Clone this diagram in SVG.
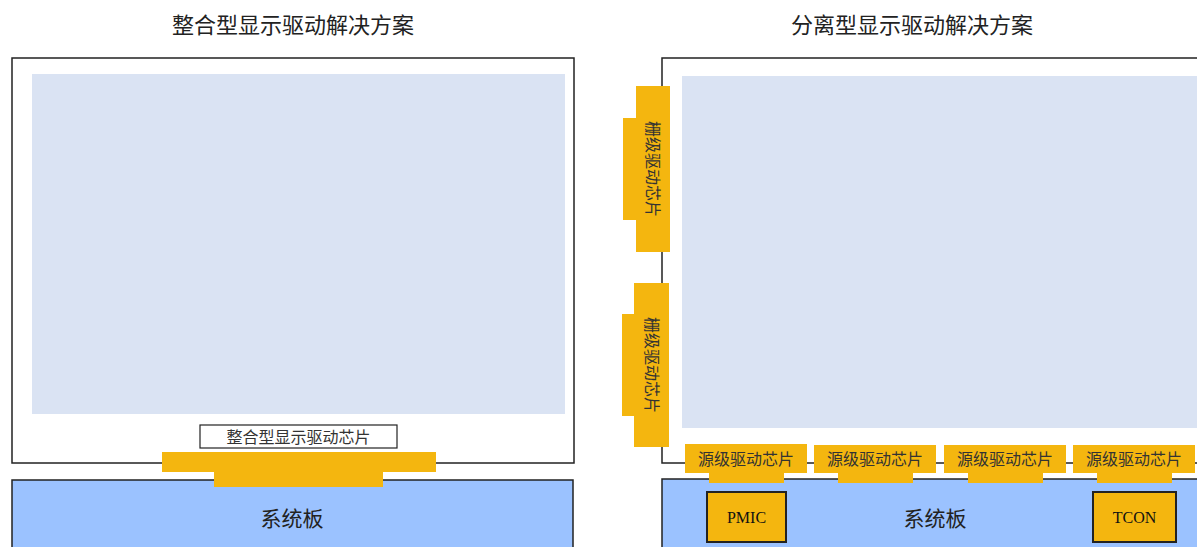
<svg xmlns="http://www.w3.org/2000/svg" width="1197" height="547" viewBox="0 0 1197 547">
<style>
.t{font-family:"Noto Sans CJK SC","Noto Sans",sans-serif;fill:#222}
.title{font-size:22px;text-anchor:middle}
.panel{fill:#fff;stroke:#222;stroke-width:1.5}
.screen{fill:#DAE3F3}
.board{fill:#9BC2FF;stroke:#222;stroke-width:1.5}
.chip{fill:#F4B60F}
.lbl{font-size:16px;text-anchor:middle;fill:#333}
.big{font-size:21px;text-anchor:middle}
.ic{fill:#F4B60F;stroke:#222;stroke-width:2}
.en{font-family:"Liberation Serif",serif;font-size:16px;text-anchor:middle;fill:#111}
</style>
<text class="t title" x="293" y="33">整合型显示驱动解决方案</text>
<text class="t title" x="912" y="33">分离型显示驱动解决方案</text>

<g id="left-panel">
<rect class="panel" x="12" y="58" width="562" height="405"/>
<rect class="screen" x="32" y="74" width="533" height="340"/>
</g>
<g id="left-board">
<rect class="board" x="12" y="480" width="561" height="80"/>
<text class="t big" x="292" y="526">系统板</text>
</g>
<g id="integrated-chip">
<rect class="chip" x="162" y="452" width="274" height="20"/>
<rect class="chip" x="214" y="471" width="169" height="16"/>
</g>
<g id="integrated-label">
<rect x="200" y="425" width="197" height="23" fill="#fff" stroke="#222" stroke-width="1.2"/>
<text class="t lbl" x="298.5" y="442.5">整合型显示驱动芯片</text>
</g>

<g id="right-panel">
<rect class="panel" x="662" y="58" width="560" height="405"/>
<rect class="screen" x="682" y="76" width="530" height="352"/>
</g>
<g id="right-board">
<rect class="board" x="662" y="479" width="560" height="80"/>
<text class="t big" x="935" y="526">系统板</text>
</g>
<g id="pmic">
<rect class="ic" x="707" y="492" width="79" height="50"/>
<text class="en" x="746.5" y="523">PMIC</text>
</g>
<g id="tcon">
<rect class="ic" x="1093" y="492" width="83" height="50"/>
<text class="en" x="1134.5" y="523">TCON</text>
</g>

<g id="gate-chip-1">
<rect class="chip" x="636" y="86" width="34" height="166"/>
<rect class="chip" x="623" y="118" width="20" height="102"/>
<text class="t lbl" transform="translate(647 169) rotate(90)" x="0" y="0">栅级驱动芯片</text>
</g>
<g id="gate-chip-2">
<rect class="chip" x="634" y="283" width="35" height="164"/>
<rect class="chip" x="622" y="314" width="20" height="102"/>
<text class="t lbl" transform="translate(646 365) rotate(90)" x="0" y="0">栅级驱动芯片</text>
</g>

<g id="source-chip-1">
<rect class="chip" x="685" y="444" width="122" height="29"/>
<rect class="chip" x="709" y="472" width="75" height="11"/>
<text class="t lbl" x="746" y="465">源级驱动芯片</text>
</g>
<g id="source-chip-2">
<rect class="chip" x="814" y="445" width="122" height="28"/>
<rect class="chip" x="838" y="472" width="75" height="11"/>
<text class="t lbl" x="875" y="465">源级驱动芯片</text>
</g>
<g id="source-chip-3">
<rect class="chip" x="944" y="445" width="122" height="28"/>
<rect class="chip" x="968" y="472" width="75" height="11"/>
<text class="t lbl" x="1005" y="465">源级驱动芯片</text>
</g>
<g id="source-chip-4">
<rect class="chip" x="1073" y="445" width="122" height="28"/>
<rect class="chip" x="1097" y="472" width="75" height="11"/>
<text class="t lbl" x="1134" y="465">源级驱动芯片</text>
</g>
<g id="connectors"></g>
</svg>
